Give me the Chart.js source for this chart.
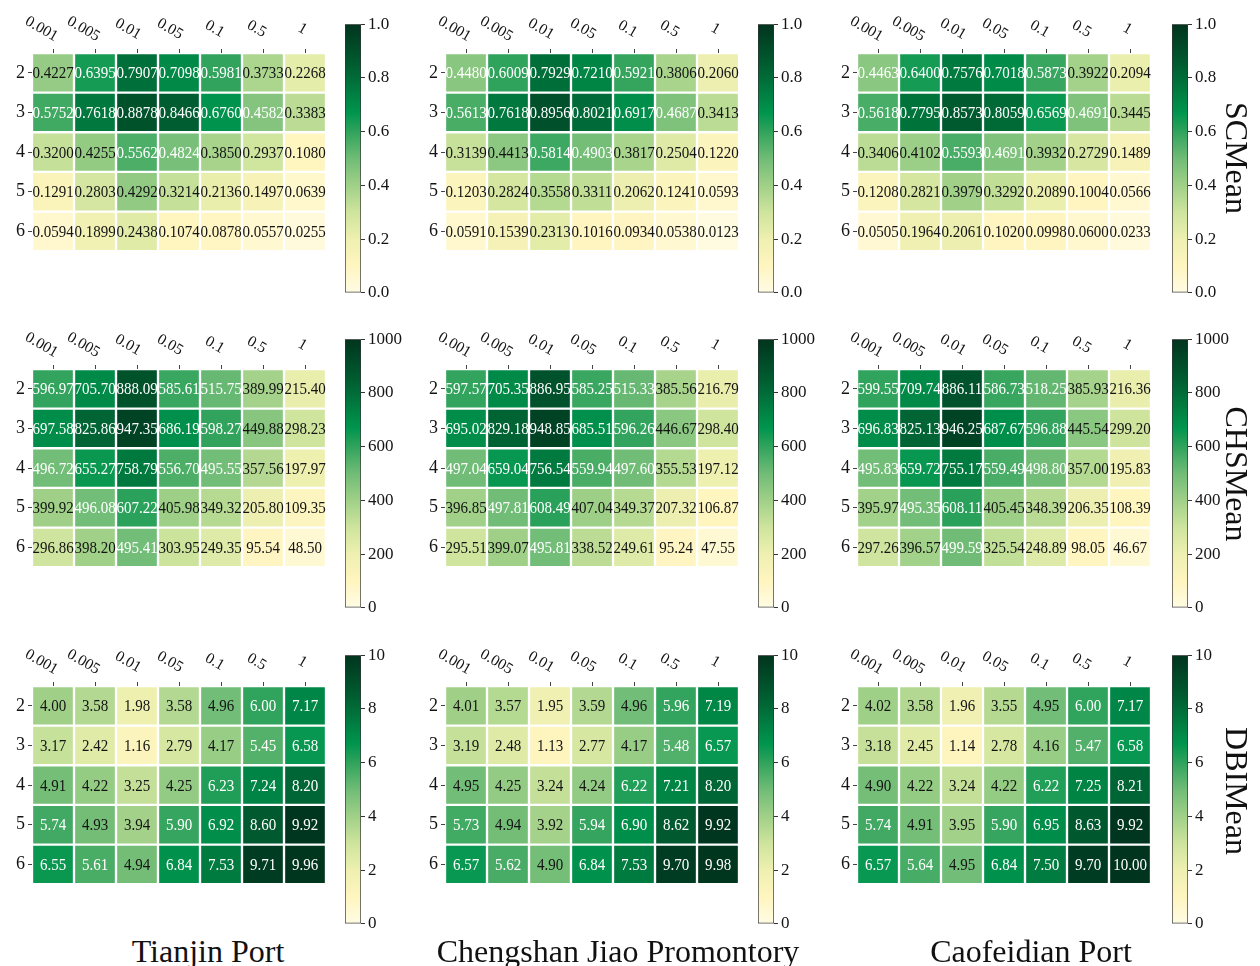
<!DOCTYPE html>
<html>
<head>
<meta charset="utf-8">
<title>SC / CHS / DBI heatmaps</title>
<script src="https://cdn.jsdelivr.net/npm/chart.js@4.4.1/dist/chart.umd.min.js"></script>
<style>
  body { margin: 0; background: #fff; font-family: "Liberation Serif", "Times New Roman", serif; }
  #root { position: relative; width: 1260px; height: 966px; overflow: hidden; }
  canvas { position: absolute; }
  .side { position: absolute; writing-mode: vertical-rl; font-size: 32px; line-height: 1; transform: translate(-50%, -50%); color: #111; white-space: nowrap; }
  .port { position: absolute; font-size: 32px; line-height: 32px; transform: translateX(-50%); color: #111; white-space: nowrap; }
</style>
</head>
<body>
<div id="root"></div>
<script>
// Heatmaps of clustering scores: columns are the parameter values,
// rows are the number of clusters, one panel per port and metric.

const colLabels = ['0.001', '0.005', '0.01', '0.05', '0.1', '0.5', '1'];
const rowLabels = ['2', '3', '4', '5', '6'];
const ports = ['Tianjin Port', 'Chengshan Jiao Promontory', 'Caofeidian Port'];

// SCMean
const scTianjin = [
  [0.4227, 0.6395, 0.7907, 0.7098, 0.5981, 0.3733, 0.2268],
  [0.5752, 0.7618, 0.8878, 0.8466, 0.6760, 0.4582, 0.3383],
  [0.3200, 0.4255, 0.5562, 0.4824, 0.3850, 0.2937, 0.1080],
  [0.1291, 0.2803, 0.4292, 0.3214, 0.2136, 0.1497, 0.0639],
  [0.0594, 0.1899, 0.2438, 0.1074, 0.0878, 0.0557, 0.0255]
];
const scChengshan = [
  [0.4480, 0.6009, 0.7929, 0.7210, 0.5921, 0.3806, 0.2060],
  [0.5613, 0.7618, 0.8956, 0.8021, 0.6917, 0.4687, 0.3413],
  [0.3139, 0.4413, 0.5814, 0.4903, 0.3817, 0.2504, 0.1220],
  [0.1203, 0.2824, 0.3558, 0.3311, 0.2062, 0.1241, 0.0593],
  [0.0591, 0.1539, 0.2313, 0.1016, 0.0934, 0.0538, 0.0123]
];
const scCaofeidian = [
  [0.4463, 0.6400, 0.7576, 0.7018, 0.5873, 0.3922, 0.2094],
  [0.5618, 0.7795, 0.8573, 0.8059, 0.6569, 0.4691, 0.3445],
  [0.3406, 0.4102, 0.5593, 0.4691, 0.3932, 0.2729, 0.1489],
  [0.1208, 0.2821, 0.3979, 0.3292, 0.2089, 0.1004, 0.0566],
  [0.0505, 0.1964, 0.2061, 0.1020, 0.0998, 0.0600, 0.0233]
];

// CHSMean
const chsTianjin = [
  [596.97, 705.70, 888.09, 585.61, 515.75, 389.99, 215.40],
  [697.58, 825.86, 947.35, 686.19, 598.27, 449.88, 298.23],
  [496.72, 655.27, 758.79, 556.70, 495.55, 357.56, 197.97],
  [399.92, 496.08, 607.22, 405.98, 349.32, 205.80, 109.35],
  [296.86, 398.20, 495.41, 303.95, 249.35, 95.54, 48.50]
];
const chsChengshan = [
  [597.57, 705.35, 886.95, 585.25, 515.33, 385.56, 216.79],
  [695.02, 829.18, 948.85, 685.51, 596.26, 446.67, 298.40],
  [497.04, 659.04, 756.54, 559.94, 497.60, 355.53, 197.12],
  [396.85, 497.81, 608.49, 407.04, 349.37, 207.32, 106.87],
  [295.51, 399.07, 495.81, 338.52, 249.61, 95.24, 47.55]
];
const chsCaofeidian = [
  [599.55, 709.74, 886.11, 586.73, 518.25, 385.93, 216.36],
  [696.83, 825.13, 946.25, 687.67, 596.88, 445.54, 299.20],
  [495.83, 659.72, 755.17, 559.49, 498.80, 357.00, 195.83],
  [395.97, 495.35, 608.11, 405.45, 348.39, 206.35, 108.39],
  [297.26, 396.57, 499.59, 325.54, 248.89, 98.05, 46.67]
];

// DBIMean
const dbiTianjin = [
  [4.00, 3.58, 1.98, 3.58, 4.96, 6.00, 7.17],
  [3.17, 2.42, 1.16, 2.79, 4.17, 5.45, 6.58],
  [4.91, 4.22, 3.25, 4.25, 6.23, 7.24, 8.20],
  [5.74, 4.93, 3.94, 5.90, 6.92, 8.60, 9.92],
  [6.55, 5.61, 4.94, 6.84, 7.53, 9.71, 9.96]
];
const dbiChengshan = [
  [4.01, 3.57, 1.95, 3.59, 4.96, 5.96, 7.19],
  [3.19, 2.48, 1.13, 2.77, 4.17, 5.48, 6.57],
  [4.95, 4.25, 3.24, 4.24, 6.22, 7.21, 8.20],
  [5.73, 4.94, 3.92, 5.94, 6.90, 8.62, 9.92],
  [6.57, 5.62, 4.90, 6.84, 7.53, 9.70, 9.98]
];
const dbiCaofeidian = [
  [4.02, 3.58, 1.96, 3.55, 4.95, 6.00, 7.17],
  [3.18, 2.45, 1.14, 2.78, 4.16, 5.47, 6.58],
  [4.90, 4.22, 3.24, 4.22, 6.22, 7.25, 8.21],
  [5.74, 4.91, 3.95, 5.90, 6.95, 8.63, 9.92],
  [6.57, 5.64, 4.95, 6.84, 7.50, 9.70, 10.00]
];

const metrics = [
  { name: 'SCMean', vmax: 1, digits: 4, cbDigits: 1, white: 0.445, sets: [scTianjin, scChengshan, scCaofeidian] },
  { name: 'CHSMean', vmax: 1000, digits: 2, cbDigits: 0, white: 470, sets: [chsTianjin, chsChengshan, chsCaofeidian] },
  { name: 'DBIMean', vmax: 10, digits: 2, cbDigits: 0, white: 5.2, sets: [dbiTianjin, dbiChengshan, dbiCaofeidian] }
];

// layout of the figure (pixels)
const cellLeft = [32, 445, 857];
const cellTop = [53, 369, 686];
const cbLeft = [345, 758, 1172];
const cbTop = [21, 336, 652];
const gridW = 294, gridH = 210, cbW = 16, cbH = 275;
const portX = [208, 618, 1031];

// yellow -> green colour map
const cmapStops = [
  [0.00, [255, 252, 228]],
  [0.10, [255, 245, 192]],
  [0.20, [238, 240, 176]],
  [0.30, [206, 228, 157]],
  [0.40, [160, 208, 136]],
  [0.50, [112, 188, 118]],
  [0.60, [48, 163, 92]],
  [0.67, [0, 149, 78]],
  [0.75, [0, 124, 64]],
  [0.85, [0, 92, 48]],
  [1.00, [0, 52, 30]]
];

function cmap(t) {
  t = Math.max(0, Math.min(1, t));
  for (let i = 1; i < cmapStops.length; i++) {
    const [t1, c1] = cmapStops[i];
    const [t0, c0] = cmapStops[i - 1];
    if (t <= t1) {
      const f = (t - t0) / (t1 - t0);
      const c = c0.map((v, k) => Math.round(v + (c1[k] - v) * f));
      return `rgb(${c[0]},${c[1]},${c[2]})`;
    }
  }
  return 'rgb(0,52,30)';
}

const serif = '"Liberation Serif", "Times New Roman", serif';

// draws the cell numbers and the slanted column labels on top
const heatLabels = {
  id: 'heatLabels',
  afterDraw(chart, args, opts) {
    const ctx = chart.ctx;
    const xs = chart.scales.x;
    ctx.save();
    ctx.textAlign = 'center';
    ctx.textBaseline = 'middle';
    ctx.font = '15px ' + serif;
    chart.data.datasets.forEach((ds, di) => {
      chart.getDatasetMeta(di).data.forEach((bar, j) => {
        const v = ds.values[j];
        ctx.fillStyle = v >= opts.white ? '#ffffff' : '#141414';
        ctx.save();
        ctx.translate(bar.x, (bar.y + bar.base) / 2 + 1);
        ctx.scale(1, 1.12);
        ctx.fillText(v.toFixed(opts.digits), 0, 0);
        ctx.restore();
      });
    });
    ctx.font = '15.5px ' + serif;
    ctx.fillStyle = '#141414';
    colLabels.forEach((lab, i) => {
      const x = xs.getPixelForTick(i);
      const w = ctx.measureText(lab).width;
      ctx.save();
      ctx.translate(x - 0.33 * w, chart.chartArea.top - 24);
      ctx.rotate(Math.PI / 6);
      ctx.fillText(lab, 0, 0);
      ctx.restore();
    });
    ctx.restore();
  }
};

function addCanvas(left, top, w, h) {
  const c = document.createElement('canvas');
  c.width = w; c.height = h;
  c.style.left = left + 'px';
  c.style.top = top + 'px';
  document.getElementById('root').appendChild(c);
  return c;
}

function makeHeatmap(canvas, values, m) {
  return new Chart(canvas, {
    type: 'bar',
    data: {
      labels: colLabels,
      datasets: values.map((row, r) => ({
        label: rowLabels[r],
        data: row.map(() => 1),
        values: row,
        backgroundColor: row.map(v => cmap(v / m.vmax)),
        borderColor: '#ffffff',
        borderWidth: 1.5,
        borderSkipped: false,
        barPercentage: 1,
        categoryPercentage: 1
      }))
    },
    options: {
      responsive: false,
      animation: false,
      layout: { padding: { right: 4, bottom: 2 } },
      plugins: {
        legend: { display: false },
        tooltip: { enabled: false },
        heatLabels: { white: m.white, digits: m.digits }
      },
      scales: {
        x: {
          position: 'top',
          stacked: true,
          grid: { drawOnChartArea: false, offset: false, tickLength: 4, color: '#444' },
          border: { display: false },
          ticks: { display: false },
          afterFit: s => { s.height = 53; }
        },
        y: {
          stacked: true,
          min: 0,
          max: rowLabels.length,
          reverse: true,
          afterBuildTicks: s => { s.ticks = rowLabels.map((_, i) => ({ value: i + 0.5 })); },
          ticks: {
            callback: (v, i) => rowLabels[i],
            font: { family: serif, size: 18 },
            color: '#141414',
            padding: 3
          },
          grid: { drawOnChartArea: false, tickLength: 4, color: '#444' },
          border: { display: false },
          afterFit: s => { s.width = 32; }
        }
      }
    },
    plugins: [heatLabels]
  });
}

function makeColorbar(canvas, m) {
  return new Chart(canvas, {
    type: 'bar',
    data: {
      labels: [''],
      datasets: [{
        data: [m.vmax],
        backgroundColor: c => {
          const ca = c.chart.chartArea;
          if (!ca) return '#ffffff';
          const g = c.chart.ctx.createLinearGradient(0, ca.bottom, 0, ca.top);
          cmapStops.forEach(([t, col]) => g.addColorStop(t, `rgb(${col[0]},${col[1]},${col[2]})`));
          return g;
        },
        borderColor: '#333333',
        borderWidth: 1,
        borderSkipped: false,
        barPercentage: 1,
        categoryPercentage: 1
      }]
    },
    options: {
      responsive: false,
      animation: false,
      layout: { padding: { top: 10, bottom: 10 } },
      plugins: { legend: { display: false }, tooltip: { enabled: false } },
      scales: {
        x: { display: false },
        y: {
          position: 'right',
          min: 0,
          max: m.vmax,
          ticks: {
            stepSize: m.vmax / 5,
            callback: v => Number(v).toFixed(m.cbDigits),
            font: { family: serif, size: 17 },
            color: '#141414',
            padding: 3
          },
          grid: { drawOnChartArea: false, tickLength: 4, color: '#333' },
          border: { display: false },
          afterFit: s => { s.width = 52; }
        }
      }
    }
  });
}

metrics.forEach((m, r) => {
  m.sets.forEach((values, c) => {
    const hc = addCanvas(cellLeft[c] - 32, cellTop[r] - 53, 32 + gridW + 4, 53 + gridH + 2);
    makeHeatmap(hc, values, m);
    const cc = addCanvas(cbLeft[c], cbTop[r] - 10, cbW + 52, cbH + 20);
    makeColorbar(cc, m);
  });
  const side = document.createElement('div');
  side.className = 'side';
  side.textContent = m.name;
  side.style.left = '1237px';
  side.style.top = (cellTop[r] + gridH / 2) + 'px';
  document.getElementById('root').appendChild(side);
});

ports.forEach((p, i) => {
  const d = document.createElement('div');
  d.className = 'port';
  d.textContent = p;
  d.style.left = portX[i] + 'px';
  d.style.top = '935px';
  document.getElementById('root').appendChild(d);
});
</script>
</body>
</html>
